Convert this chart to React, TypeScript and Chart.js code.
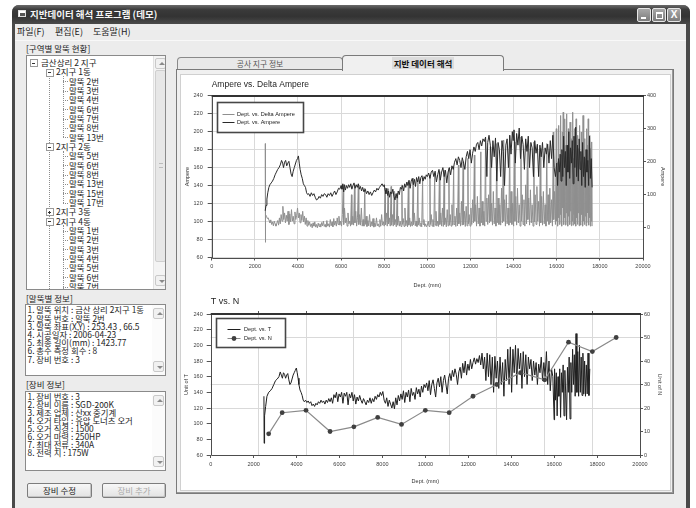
import React, { useEffect, useRef } from "react";
import { Chart, registerables } from "chart.js";

Chart.register(...registerables);

const FONT = '"Liberation Sans", Arial, sans-serif';
const KFONT = '"Noto Sans CJK KR", "Noto Sans", sans-serif';

// ---------- tick labels ----------
const depthTicks = [0, 2000, 4000, 6000, 8000, 10000, 12000, 14000, 16000, 18000, 20000];
const ampereAxisTicks = [60, 80, 100, 120, 140, 160, 180, 200, 220, 240];
const deltaAxisTicks = [0, 100, 200, 300, 400];
const tAxisTicks = [60, 80, 100, 120, 140, 160, 180, 200, 220, 240];
const nAxisTicks = [0, 10, 20, 30, 40, 50, 60];
const nGridDepths = [2222, 4444, 6667, 8889, 11111, 13333, 15556, 17778];
const nGridLevels = [20, 30, 50];

// ---------- series: [depth (mm), value] ----------
const ampere: [number, number][] = [
  [2480, 112], [2520, 118], [2560, 125], [2600, 132], [2650, 138], [2700, 141], [2760, 143], [2820, 145], [2880, 148],
  [2940, 152], [3000, 155], [3060, 158], [3120, 160], [3180, 163], [3240, 168], [3290, 165], [3330, 160], [3380, 166],
  [3430, 168], [3480, 162], [3530, 165], [3580, 167], [3630, 160], [3680, 153], [3730, 150], [3780, 156], [3830, 160],
  [3880, 164], [3930, 168], [3980, 170], [4020, 173], [4060, 165], [4100, 158], [4150, 152], [4200, 148], [4250, 142],
  [4300, 140], [4350, 138], [4400, 132], [4450, 130], [4500, 131], [4560, 128], [4620, 132], [4680, 129], [4740, 131],
  [4800, 127], [4860, 124], [4920, 125], [4980, 128], [5040, 126], [5100, 130], [5160, 128], [5220, 131], [5280, 130],
  [5340, 127], [5400, 131], [5460, 129], [5520, 132], [5580, 128], [5640, 131], [5700, 134], [5760, 130], [5820, 133],
  [5880, 137], [5940, 136], [6000, 140], [6040, 136], [6080, 142], [6120, 133], [6160, 141], [6200, 135], [6250, 140],
  [6300, 137], [6350, 141], [6400, 138], [6450, 142], [6500, 136], [6550, 140], [6600, 143], [6650, 137], [6700, 141],
  [6750, 138], [6800, 142], [6850, 136], [6900, 139], [6950, 134], [7000, 138], [7060, 133], [7120, 136], [7180, 131],
  [7240, 134], [7300, 130], [7360, 133], [7420, 129], [7480, 132], [7540, 135], [7600, 133], [7660, 137], [7720, 135],
  [7780, 138], [7840, 140], [7900, 142], [7960, 139], [8000, 141], [8040, 135], [8080, 131], [8120, 137], [8160, 129],
  [8200, 134], [8250, 127], [8300, 133], [8350, 131], [8400, 136], [8450, 128], [8500, 124], [8550, 131], [8600, 126],
  [8650, 134], [8700, 130], [8750, 138], [8800, 136], [8850, 140], [8900, 134], [8950, 142], [9000, 138], [9050, 144],
  [9100, 140], [9150, 146], [9200, 137], [9250, 145], [9300, 148], [9350, 141], [9400, 147], [9450, 139], [9500, 149],
  [9550, 144], [9600, 150], [9650, 142], [9700, 149], [9750, 151], [9800, 145], [9850, 150], [9900, 147], [9950, 152],
  [10000, 150], [10060, 154], [10120, 148], [10180, 155], [10240, 157], [10300, 150], [10360, 156], [10420, 144],
  [10480, 152], [10540, 158], [10600, 146], [10660, 155], [10720, 160], [10780, 150], [10840, 157], [10900, 143],
  [10960, 155], [11020, 160], [11080, 152], [11140, 162], [11200, 158], [11260, 166], [11320, 170], [11380, 163],
  [11440, 172], [11500, 168], [11560, 160], [11620, 171], [11680, 165], [11740, 158], [11800, 172], [11860, 178],
  [11920, 170], [11980, 180], [12040, 165], [12100, 176], [12160, 183], [12220, 178], [12280, 186], [12340, 188],
  [12400, 180], [12460, 190], [12520, 184], [12580, 192], [12640, 189], [12700, 194], [12760, 150], [12800, 188],
  [12860, 196], [12920, 185], [12980, 160], [13040, 190], [13100, 172], [13160, 193], [13220, 145], [13280, 188],
  [13340, 180], [13400, 150], [13460, 190], [13520, 178], [13580, 140], [13640, 185], [13700, 192], [13760, 160],
  [13820, 196], [13880, 175], [13940, 200], [13980, 190], [14020, 202], [14080, 165], [14140, 198], [14200, 185],
  [14260, 204], [14320, 170], [14380, 195], [14440, 186], [14500, 158], [14560, 192], [14620, 178], [14680, 195],
  [14740, 160], [14800, 188], [14860, 182], [14920, 150], [14980, 190], [15040, 176], [15100, 186], [15160, 150],
  [15220, 185], [15280, 172], [15340, 188], [15400, 160], [15460, 182], [15520, 175], [15580, 186], [15640, 165],
  [15700, 190], [15760, 170], [15820, 196], [15880, 160], [15940, 150], [16000, 165], [16040, 140], [16080, 170],
  [16120, 155], [16160, 175], [16200, 145], [16240, 180], [16280, 150], [16320, 195], [16360, 160], [16400, 178],
  [16440, 140], [16480, 185], [16520, 155], [16560, 200], [16600, 148], [16640, 182], [16680, 165], [16720, 190],
  [16760, 142], [16800, 195], [16840, 160], [16880, 205], [16920, 150], [16960, 185], [17000, 145], [17040, 192],
  [17080, 158], [17120, 178], [17160, 140], [17200, 188], [17240, 150], [17280, 172], [17320, 138], [17360, 180],
  [17400, 155], [17440, 168], [17480, 140], [17520, 195], [17560, 148], [17600, 170], [17640, 138],
];

const deltaAmpere: [number, number][] = [
  [2480, 255], [2490, -44], [2500, 40], [2540, 35], [2580, 28], [2620, 30], [2660, 22], [2700, 15], [2740, 24],
  [2780, 10], [2820, 18], [2860, 6], [2900, 20], [2940, 12], [2980, 5], [3020, 14], [3060, 22], [3100, 8], [3140, 30],
  [3180, 12], [3220, 40], [3260, 20], [3300, 65], [3340, 25], [3380, 45], [3420, 15], [3460, 38], [3500, 20],
  [3540, 50], [3580, 10], [3620, 42], [3660, 18], [3700, 55], [3740, 20], [3780, 35], [3820, 12], [3860, 48],
  [3900, 25], [3940, 38], [3980, 60], [4020, 30], [4060, 45], [4100, 15], [4140, 40], [4180, 22], [4220, 50],
  [4260, 18], [4300, 35], [4340, 10], [4380, 30], [4420, 5], [4460, 22], [4500, 8], [4540, 18], [4580, 4], [4620, 12],
  [4660, 0], [4700, 15], [4740, 5], [4780, 18], [4820, 2], [4860, 10], [4900, 0], [4940, 14], [4980, 4], [5020, 12],
  [5060, 2], [5100, 16], [5140, 6], [5180, 20], [5220, 4], [5260, 10], [5300, 2], [5340, 22], [5380, 5], [5420, 12],
  [5460, 2], [5500, 25], [5540, 6], [5580, 18], [5620, 3], [5660, 28], [5700, 8], [5740, 20], [5780, 5], [5820, 30],
  [5860, 10], [5900, 35], [5940, 8], [5980, 20], [6020, 5], [6060, 40], [6100, 130], [6120, 10], [6160, 60],
  [6200, 15], [6240, 30], [6280, 5], [6320, 45], [6360, 12], [6400, 20], [6440, 5], [6480, 100], [6500, 10],
  [6540, 35], [6580, 8], [6620, 125], [6640, 15], [6680, 50], [6720, 5], [6760, 30], [6800, 130], [6820, 10],
  [6860, 40], [6900, 8], [6940, 60], [6980, 5], [7020, 25], [7060, 5], [7100, 120], [7120, 10], [7160, 35], [7200, 4],
  [7240, 22], [7280, 6], [7320, 40], [7360, 3], [7400, 18], [7440, 5], [7480, 28], [7520, 2], [7560, 15], [7600, 4],
  [7640, 30], [7680, 6], [7720, 12], [7760, 3], [7800, 25], [7840, 5], [7880, 40], [7920, 8], [7960, 18], [8000, 5],
  [8040, 120], [8060, 10], [8100, 45], [8140, 5], [8180, 118], [8200, 12], [8240, 30], [8280, 5], [8320, 125],
  [8340, 8], [8380, 40], [8420, 5], [8460, 110], [8480, 10], [8520, 25], [8560, 3], [8600, 105], [8620, 8], [8660, 35],
  [8700, 5], [8740, 20], [8780, 4], [8820, 130], [8840, 10], [8880, 28], [8920, 4], [8960, 60], [9000, 6], [9040, 22],
  [9080, 3], [9120, 140], [9140, 8], [9180, 30], [9220, 4], [9260, 18], [9300, 5], [9340, 150], [9360, 10], [9400, 45],
  [9440, 6], [9480, 20], [9520, 4], [9560, 145], [9580, 8], [9620, 30], [9660, 5], [9700, 15], [9740, 3], [9780, 150],
  [9800, 10], [9840, 25], [9880, 4], [9920, 12], [9960, 3], [10000, 8], [10040, 20], [10080, 4], [10120, 160],
  [10140, 10], [10180, 40], [10220, 5], [10260, 25], [10300, 3], [10340, 165], [10360, 8], [10400, 50], [10440, 5],
  [10480, 20], [10520, 4], [10560, 170], [10580, 10], [10620, 45], [10660, 5], [10700, 60], [10740, 4], [10780, 175],
  [10800, 10], [10840, 30], [10880, 3], [10920, 55], [10960, 6], [11000, 180], [11020, 8], [11060, 40], [11100, 5],
  [11140, 70], [11180, 8], [11220, 185], [11240, 10], [11280, 35], [11320, 4], [11360, 60], [11400, 6], [11440, 190],
  [11460, 12], [11500, 45], [11540, 5], [11580, 80], [11620, 8], [11660, 200], [11680, 10], [11720, 50], [11760, 4],
  [11800, 65], [11840, 6], [11880, 210], [11900, 12], [11940, 40], [11980, 5], [12020, 60], [12060, 10], [12100, 85],
  [12140, 15], [12180, 220], [12200, 20], [12240, 70], [12280, 5], [12320, 95], [12360, 12], [12400, 60], [12440, 5],
  [12480, 230], [12500, 15], [12540, 80], [12580, 8], [12620, 50], [12660, 5], [12700, 270], [12720, 20], [12760, 90],
  [12800, 10], [12840, 100], [12880, 15], [12920, 245], [12940, 20], [12980, 75], [13020, 8], [13060, 110], [13100, 12],
  [13140, 60], [13180, 5], [13220, 255], [13240, 15], [13280, 90], [13320, 10], [13360, 70], [13400, 8], [13440, 120],
  [13480, 15], [13520, 265], [13540, 20], [13580, 85], [13620, 5], [13660, 100], [13700, 12], [13740, 60], [13780, 8],
  [13820, 280], [13840, 15], [13880, 110], [13920, 10], [13960, 75], [14000, 5], [14040, 260], [14060, 20], [14100, 95],
  [14140, 8], [14180, 120], [14220, 15], [14260, 70], [14300, 5], [14340, 275], [14360, 20], [14400, 100], [14440, 10],
  [14480, 85], [14520, 5], [14560, 130], [14600, 12], [14640, 250], [14660, 25], [14700, 90], [14740, 8], [14780, 115],
  [14820, 15], [14860, 70], [14900, 5], [14940, 260], [14960, 18], [15000, 100], [15040, 10], [15080, 125], [15120, 20],
  [15160, 80], [15200, 5], [15240, 240], [15260, 15], [15300, 95], [15340, 8], [15380, 110], [15420, 12], [15460, 70],
  [15500, 5], [15540, 255], [15560, 20], [15600, 100], [15640, 10], [15680, 120], [15720, 15], [15760, 85], [15800, 5],
  [15840, 290], [15860, 25], [15900, 110], [15940, 10], [15980, 300], [16000, 20], [16020, 150], [16040, 5],
  [16060, 200], [16080, 30], [16100, 310], [16120, 10], [16140, 180], [16160, 40], [16180, 340], [16200, 15],
  [16220, 220], [16240, 5], [16260, 290], [16280, 60], [16300, 350], [16320, 10], [16340, 200], [16360, 30],
  [16380, 330], [16400, 8], [16420, 250], [16440, 45], [16460, 345], [16480, 12], [16500, 190], [16520, 5],
  [16540, 300], [16560, 35], [16580, 240], [16600, 10], [16620, 320], [16640, 50], [16660, 180], [16680, 6],
  [16700, 270], [16720, 20], [16740, 350], [16760, 8], [16780, 210], [16800, 40], [16820, 300], [16840, 12],
  [16860, 260], [16880, 5], [16900, 330], [16920, 30], [16940, 190], [16960, 10], [16980, 280], [17000, 45],
  [17020, 240], [17040, 6], [17060, 310], [17080, 25], [17100, 200], [17120, 8], [17140, 290], [17160, 40],
  [17180, 230], [17200, 5], [17220, 340], [17240, 20], [17260, 180], [17280, 10], [17300, 270], [17320, 35],
  [17340, 210], [17360, 6], [17380, 300], [17400, 15], [17420, 250], [17440, 45], [17460, 330], [17480, 8],
  [17500, 200], [17520, 30], [17540, 280], [17560, 5], [17580, 240], [17600, 20], [17620, 260], [17640, 5],
];

const tValues: [number, number][] = [
  [2480, 135], [2490, 75], [2510, 110], [2560, 122], [2620, 135], [2700, 140], [2780, 142], [2860, 145], [2940, 150],
  [3020, 155], [3100, 157], [3180, 160], [3240, 166], [3290, 162], [3340, 158], [3390, 165], [3440, 163], [3490, 158],
  [3540, 162], [3590, 164], [3640, 156], [3690, 150], [3740, 152], [3790, 157], [3840, 162], [3890, 165], [3940, 168],
  [3990, 171], [4030, 165], [4070, 158], [4110, 150], [4160, 143], [4210, 140], [4260, 136], [4310, 130], [4360, 128],
  [4420, 130], [4480, 127], [4540, 129], [4600, 126], [4660, 128], [4720, 123], [4780, 125], [4840, 122], [4900, 126],
  [4960, 124], [5020, 128], [5080, 126], [5140, 130], [5200, 127], [5260, 129], [5320, 125], [5380, 130], [5440, 127],
  [5500, 132], [5560, 128], [5620, 133], [5680, 126], [5740, 137], [5800, 133], [5860, 140], [5920, 128], [5980, 138],
  [6040, 134], [6100, 140], [6160, 126], [6220, 139], [6280, 135], [6340, 140], [6400, 124], [6460, 138], [6520, 133],
  [6580, 140], [6640, 129], [6700, 137], [6760, 125], [6820, 134], [6880, 129], [6940, 136], [7000, 130], [7060, 126],
  [7120, 132], [7180, 128], [7240, 124], [7300, 130], [7360, 127], [7420, 133], [7480, 126], [7540, 132], [7600, 128],
  [7660, 135], [7720, 131], [7780, 137], [7840, 134], [7900, 140], [7960, 136], [8020, 141], [8080, 130], [8140, 126],
  [8200, 133], [8260, 122], [8320, 130], [8380, 125], [8440, 120], [8500, 128], [8560, 119], [8620, 133], [8680, 124],
  [8740, 136], [8800, 129], [8860, 138], [8920, 131], [8980, 142], [9040, 127], [9100, 140], [9160, 134], [9220, 143],
  [9280, 128], [9340, 145], [9400, 136], [9460, 140], [9520, 131], [9580, 146], [9640, 138], [9700, 144], [9760, 134],
  [9820, 148], [9880, 140], [9940, 150], [10000, 146], [10060, 152], [10120, 142], [10180, 155], [10240, 137],
  [10300, 150], [10360, 156], [10420, 145], [10480, 134], [10540, 152], [10600, 158], [10660, 147], [10720, 160],
  [10780, 140], [10840, 155], [10900, 162], [10960, 150], [11020, 138], [11080, 158], [11140, 164], [11200, 155],
  [11260, 168], [11320, 160], [11380, 170], [11440, 163], [11500, 150], [11560, 166], [11620, 172], [11680, 158],
  [11740, 177], [11800, 165], [11860, 180], [11920, 162], [11980, 176], [12040, 168], [12100, 182], [12160, 170],
  [12220, 178], [12280, 184], [12340, 176], [12400, 183], [12460, 178], [12520, 187], [12580, 175], [12640, 190],
  [12700, 170], [12760, 185], [12820, 155], [12880, 190], [12940, 160], [13000, 188], [13060, 150], [13120, 185],
  [13180, 140], [13240, 186], [13300, 158], [13360, 180], [13420, 145], [13480, 185], [13540, 150], [13600, 178],
  [13660, 135], [13720, 182], [13780, 155], [13840, 195], [13900, 150], [13960, 198], [14020, 140], [14080, 195],
  [14140, 165], [14200, 200], [14260, 150], [14320, 196], [14380, 170], [14440, 190], [14500, 145], [14560, 192],
  [14620, 160], [14680, 188], [14740, 150], [14800, 185], [14860, 170], [14920, 182], [14980, 155], [15040, 180],
  [15100, 162], [15160, 178], [15220, 150], [15280, 176], [15340, 165], [15400, 185], [15460, 155], [15520, 178],
  [15580, 160], [15640, 192], [15700, 150], [15760, 180], [15820, 142], [15880, 170], [15940, 160], [16000, 105],
  [16020, 170], [16060, 130], [16100, 165], [16140, 110], [16180, 160], [16220, 135], [16260, 170], [16300, 108],
  [16340, 165], [16380, 140], [16420, 175], [16460, 110], [16500, 168], [16540, 138], [16580, 105], [16620, 172],
  [16660, 140], [16700, 185], [16740, 106], [16780, 178], [16820, 140], [16860, 195], [16900, 150], [16940, 188],
  [16980, 135], [17020, 215], [17060, 140], [17100, 192], [17140, 135], [17180, 200], [17220, 140], [17260, 185],
  [17300, 136], [17340, 190], [17380, 138], [17420, 180], [17460, 135], [17500, 175], [17540, 138], [17580, 190],
  [17620, 136], [17660, 170],
];

const nValues: [number, number][] = [
  [2700, 9], [3330, 18], [4440, 19], [5560, 10], [6670, 12], [7780, 16], [8890, 13], [10000, 19],
  [11110, 18], [12220, 25], [13330, 30], [14440, 35], [15560, 32], [16670, 48], [17780, 44], [18890, 50],
];

// ---------- helpers ----------
const toXY = (arr: [number, number][]) => arr.map(([x, y]) => ({ x, y }));
const setTicks = (values: number[]) => (s: any) => {
  s.ticks = values.map((v) => ({ value: v }));
};
const tickFont = { family: FONT, size: 5.5 };
const axisTitleFont = { family: FONT, size: 5.5 };
const GRID = "#d9d9d9";
const TICK = "#555";

const framePlugin = {
  id: "frame",
  afterDraw(chart: any) {
    const { ctx, chartArea: a } = chart;
    ctx.save();
    ctx.strokeStyle = "#4d4d4d";
    ctx.lineWidth = 1;
    ctx.beginPath();
    ctx.moveTo(Math.round(a.left) + 0.5, a.top);
    ctx.lineTo(Math.round(a.left) + 0.5, Math.round(a.bottom) + 0.5);
    ctx.lineTo(Math.round(a.right) + 0.5, Math.round(a.bottom) + 0.5);
    ctx.lineTo(Math.round(a.right) + 0.5, a.top);
    ctx.stroke();
    ctx.strokeStyle = "#333";
    ctx.lineWidth = 2;
    ctx.beginPath();
    ctx.moveTo(a.left, Math.round(a.top));
    ctx.lineTo(a.right + 1, Math.round(a.top));
    ctx.stroke();
    ctx.restore();
  },
};

const boxLegendPlugin = {
  id: "boxLegend",
  afterDraw(chart: any, _args: any, o: any) {
    const { ctx, chartArea: a } = chart;
    const x = Math.round(a.left + o.dx) + 0.5;
    const y = Math.round(a.top + o.dy) + 0.5;
    ctx.save();
    ctx.fillStyle = "#fff";
    ctx.fillRect(x, y, o.w, o.h);
    ctx.strokeStyle = "#474747";
    ctx.lineWidth = 1.6;
    ctx.strokeRect(x, y, o.w, o.h);
    chart.data.datasets.forEach((ds: any, i: number) => {
      const ry = Math.round(y + o.rows[i]) + 0.5;
      ctx.strokeStyle = ds.borderColor;
      ctx.lineWidth = 1;
      ctx.beginPath();
      ctx.moveTo(x + o.l0, ry);
      ctx.lineTo(x + o.l1, ry);
      ctx.stroke();
      if (ds.pointRadius > 0) {
        ctx.fillStyle = ds.pointBackgroundColor;
        ctx.beginPath();
        ctx.arc(x + (o.l0 + o.l1) / 2, ry, ds.pointRadius, 0, Math.PI * 2);
        ctx.fill();
      }
      ctx.fillStyle = "#222";
      ctx.font = `5.6px ${FONT}`;
      ctx.textBaseline = "middle";
      ctx.fillText(ds.label, x + o.tx, ry);
    });
    ctx.restore();
  },
};

function topConfig(): any {
  return {
    type: "line",
    data: {
      datasets: [
        {
          label: "Dept. vs. Delta Ampere",
          data: toXY(deltaAmpere),
          yAxisID: "y1",
          borderColor: "#8f8f8f",
          borderWidth: 1,
          pointRadius: 0,
          order: 1,
        },
        {
          label: "Dept. vs. Ampere",
          data: toXY(ampere),
          yAxisID: "y",
          borderColor: "#2a2a2a",
          borderWidth: 1,
          pointRadius: 0,
          order: 0,
        },
      ],
    },
    options: {
      animation: false,
      responsive: false,
      maintainAspectRatio: false,
      devicePixelRatio: 1,
      layout: { padding: 0 },
      elements: { line: { tension: 0 } },
      plugins: {
        legend: { display: false },
        tooltip: { enabled: false },
        title: {
          display: true,
          text: "Ampere vs. Delta Ampere",
          align: "start",
          fullSize: false,
          color: "#1e1e1e",
          font: { family: FONT, size: 8.5, weight: "normal" },
          padding: { top: 5.1, bottom: 6.4 },
        },
        boxLegend: { dx: 5, dy: 6.6, w: 86, h: 30, rows: [11, 19.7], l0: 5, l1: 17, tx: 19.5 },
      },
      scales: {
        x: {
          type: "linear",
          position: "bottom",
          min: 0,
          max: 20000,
          afterBuildTicks: setTicks(depthTicks),
          afterFit: (s: any) => {
            s.height = 33.5;
          },
          grid: { color: GRID, tickColor: TICK, tickLength: 3, drawOnChartArea: true },
          border: { display: false },
          ticks: { font: tickFont, color: "#3c3c3c", padding: 3, maxRotation: 0, autoSkip: false, callback: (v: any) => String(v) },
          title: { display: true, text: "Dept. (mm)", font: axisTitleFont, color: "#333", padding: { top: 0, bottom: 2.7 } },
        },
        y: {
          type: "linear",
          position: "left",
          min: 60,
          max: 240,
          afterBuildTicks: setTicks(ampereAxisTicks),
          afterFit: (s: any) => {
            s.width = 31.7;
          },
          grid: { color: GRID, tickColor: TICK, tickLength: 4, drawOnChartArea: true },
          border: { display: false },
          ticks: { font: tickFont, color: "#3c3c3c", padding: 5, callback: (v: any) => String(v) },
          title: { display: true, text: "Ampere", font: axisTitleFont, color: "#333", padding: { top: 4, bottom: 0 } },
        },
        y1: {
          type: "linear",
          position: "right",
          min: -90,
          max: 400,
          afterBuildTicks: setTicks(deltaAxisTicks),
          afterFit: (s: any) => {
            s.width = 28;
          },
          grid: { color: GRID, tickColor: TICK, tickLength: 3, drawOnChartArea: false },
          border: { display: false },
          ticks: { font: tickFont, color: "#3c3c3c", padding: 1, callback: (v: any) => String(v) },
          title: { display: true, text: "Ampere", font: axisTitleFont, color: "#333", padding: { top: 5, bottom: 0 } },
        },
      },
    },
    plugins: [framePlugin, boxLegendPlugin],
  };
}

function bottomConfig(): any {
  return {
    type: "line",
    data: {
      datasets: [
        {
          label: "Dept. vs. T",
          data: toXY(tValues),
          yAxisID: "y",
          xAxisID: "x",
          borderColor: "#1f1f1f",
          borderWidth: 1,
          pointRadius: 0,
          order: 1,
        },
        {
          label: "Dept. vs. N",
          data: toXY(nValues),
          yAxisID: "y1",
          xAxisID: "x",
          borderColor: "#8a8a8a",
          borderWidth: 1.2,
          pointRadius: 2.4,
          pointBackgroundColor: "#404040",
          pointBorderColor: "#404040",
          pointBorderWidth: 0,
          order: 0,
        },
      ],
    },
    options: {
      animation: false,
      responsive: false,
      maintainAspectRatio: false,
      devicePixelRatio: 1,
      layout: { padding: 0 },
      elements: { line: { tension: 0 } },
      plugins: {
        legend: { display: false },
        tooltip: { enabled: false },
        title: {
          display: true,
          text: "T vs. N",
          align: "start",
          fullSize: false,
          color: "#1e1e1e",
          font: { family: FONT, size: 9, weight: "normal" },
          padding: { top: 5.3, bottom: 6.9 },
        },
        boxLegend: { dx: 5, dy: 3.7, w: 69, h: 29, rows: [10, 19.6], l0: 11, l1: 24, tx: 27.5 },
      },
      scales: {
        x: {
          type: "linear",
          position: "bottom",
          min: 0,
          max: 20000,
          afterBuildTicks: setTicks(depthTicks),
          afterFit: (s: any) => {
            s.height = 36;
          },
          grid: { color: GRID, tickColor: TICK, tickLength: 3, drawOnChartArea: false },
          border: { display: false },
          ticks: { font: tickFont, color: "#3c3c3c", padding: 3, maxRotation: 0, autoSkip: false, callback: (v: any) => String(v) },
          title: { display: true, text: "Dept. (mm)", font: axisTitleFont, color: "#333", padding: { top: 0, bottom: 6 } },
        },
        x2: {
          type: "linear",
          position: "top",
          min: 0,
          max: 20000,
          afterBuildTicks: setTicks(nGridDepths),
          afterFit: (s: any) => {
            s.height = 0;
          },
          grid: { color: GRID, tickColor: TICK, tickLength: 3, drawOnChartArea: true },
          border: { display: false },
          ticks: { display: false },
        },
        y: {
          type: "linear",
          position: "left",
          min: 60,
          max: 240,
          afterBuildTicks: setTicks(tAxisTicks),
          afterFit: (s: any) => {
            s.width = 30.7;
          },
          grid: { color: GRID, tickColor: TICK, tickLength: 4, drawOnChartArea: false },
          border: { display: false },
          ticks: { font: tickFont, color: "#3c3c3c", padding: 4, callback: (v: any) => String(v) },
          title: { display: true, text: "Unit of T", font: axisTitleFont, color: "#333", padding: { top: 3.4, bottom: 0 } },
        },
        y1: {
          type: "linear",
          position: "right",
          min: 0,
          max: 60,
          afterBuildTicks: setTicks(nAxisTicks),
          afterFit: (s: any) => {
            s.width = 31;
          },
          grid: {
            color: (c: any) => (c.tick && nGridLevels.includes(c.tick.value) ? GRID : "rgba(0,0,0,0)"),
            tickColor: TICK,
            tickLength: 3,
            drawOnChartArea: true,
          },
          border: { display: false },
          ticks: { font: tickFont, color: "#3c3c3c", padding: 1, callback: (v: any) => String(v) },
          title: { display: true, text: "Unit of N", font: axisTitleFont, color: "#333", padding: { top: 7.7, bottom: 0 } },
        },
      },
    },
    plugins: [framePlugin, boxLegendPlugin],
  };
}

function ChartCanvas({ make, left, top, width, height }: any) {
  const ref = useRef<HTMLCanvasElement | null>(null);
  useEffect(() => {
    const chart = new Chart(ref.current as HTMLCanvasElement, make());
    return () => chart.destroy();
  }, []);
  return (
    <canvas
      ref={ref}
      width={width}
      height={height}
      style={{ position: "absolute", left, top, width, height, display: "block" }}
    />
  );
}

// ---------- UI text ----------
const menuItems = ["파일(F)", "편집(E)", "도움말(H)"];
const menuX = [17, 55, 93];
const treeRows: [number, string, string][] = [
  [0, "금산상리 2 지구", "-"],
  [1, "2지구 1동", "-"],
  [2, "말뚝 2번", ""], [2, "말뚝 3번", ""], [2, "말뚝 4번", ""], [2, "말뚝 6번", ""], [2, "말뚝 7번", ""], [2, "말뚝 8번", ""], [2, "말뚝 13번", ""],
  [1, "2지구 2동", "-"],
  [2, "말뚝 5번", ""], [2, "말뚝 6번", ""], [2, "말뚝 8번", ""], [2, "말뚝 13번", ""], [2, "말뚝 15번", ""], [2, "말뚝 17번", ""],
  [1, "2지구 3동", "+"],
  [1, "2지구 4동", "-"],
  [2, "말뚝 1번", ""], [2, "말뚝 2번", ""], [2, "말뚝 3번", ""], [2, "말뚝 4번", ""], [2, "말뚝 5번", ""], [2, "말뚝 6번", ""], [2, "말뚝 7번", ""],
];
const pileInfo = [
  "1. 말뚝 위치 : 금산 상리 2지구 1동",
  "2. 말뚝 번호 : 말뚝 2번",
  "3. 말뚝 좌표(X,Y) : 253.43 , 66.5",
  "4. 시공일자 : 2006-04-23",
  "5. 최종 길이(mm) : 1423.77",
  "6. 총수 측정 회수 : 8",
  "7. 장비 번호 : 3",
];
const equipInfo = [
  "1. 장비 번호 : 3",
  "2. 장비 이름 : SGD-200K",
  "3. 제조 업체 : 산xx 중기계",
  "4. 오거 타입 : 유압 도너츠 오거",
  "5. 오거 직경 : 1500",
  "6. 오거 마력 : 250HP",
  "7. 최대 전류 : 340A",
  "8. 전력 치 : 175W",
];

const abs = (l: number, t: number, w?: number, h?: number, extra: any = {}): any => ({
  position: "absolute",
  left: l,
  top: t,
  width: w,
  height: h,
  boxSizing: "border-box",
  ...extra,
});

function ScrollArrow({ l, t, up }: any) {
  return (
    <div style={abs(l, t, 11, 11, { background: "#f1f1f1", border: "1px solid #c9c9c9", borderRadius: 2 })}>
      <div
        style={abs(2.5, up ? 3 : 3.5, 0, 0, {
          borderLeft: "3px solid transparent",
          borderRight: "3px solid transparent",
          [up ? "borderBottom" : "borderTop"]: "3px solid #8a8a8a",
        })}
      />
    </div>
  );
}

function Tree() {
  const rowH = 9.33;
  const y0 = 61.7;
  const rowsEls = treeRows.map(([lvl, text, box], i) => {
    const cy = y0 + rowH * i;
    const tx = lvl === 0 ? 40 : lvl === 1 ? 55 : 68;
    const els: any[] = [];
    els.push(
      <div key={"t" + i} style={abs(tx - 26, cy - 55 - rowH / 2, 90, rowH, { fontSize: 8.5, lineHeight: rowH + "px", color: "#222", whiteSpace: "nowrap" })}>
        {text}
      </div>
    );
    if (lvl === 2) {
      els.push(<div key={"s" + i} style={abs(62 - 26, cy - 55, 5, 1, { borderTop: "1px dotted #8c8c8c" })} />);
    }
    if (box) {
      const bx = (lvl === 0 ? 32 : 48) - 26;
      els.push(
        <div key={"b" + i} style={abs(bx - 3.5, cy - 55 - 3.5, 8, 8, { border: "1px solid #999", background: "#fff" })}>
          <div style={abs(1.5, 2.5, 3, 1, { background: "#333" })} />
          {box === "+" ? <div style={abs(2.5, 1.5, 1, 3, { background: "#333" })} /> : null}
        </div>
      );
    }
    return els;
  });
  const vline = (x: number, y1: number, y2: number, k: string) => (
    <div key={k} style={abs(x - 26, y1 - 55, 1, y2 - y1, { borderLeft: "1px dotted #8c8c8c" })} />
  );
  const rowY = (i: number) => y0 + rowH * i;
  return (
    <div style={abs(26, 55, 140, 235, { background: "#fff", border: "1px solid #8a8a8a", overflow: "hidden", fontFamily: KFONT })}>
      {vline(48, rowY(1), 290, "v1")}
      {vline(62, rowY(1) + 4, rowY(8), "v2a")}
      {vline(62, rowY(9) + 4, rowY(15), "v2b")}
      {vline(62, rowY(17) + 4, 290, "v2c")}
      {rowsEls}
      <div style={abs(126, 0, 13, 233, { background: "#f4f4f4", borderLeft: "1px solid #e2e2e2" })}>
        <ScrollArrow l={1} t={2} up />
        <div style={abs(1, 14, 11, 192, { background: "#e7e7e7", border: "1px solid #cfcfcf", borderRadius: 2 })}>
          <div style={abs(3, 92, 4, 5, { borderTop: "1px solid #bbb", borderBottom: "1px solid #bbb" })} />
        </div>
        <ScrollArrow l={1} t={219} up={false} />
      </div>
    </div>
  );
}

function InfoBox({ top, height, lines, lineH, first }: any) {
  return (
    <div style={abs(25, top, 141, height, { background: "#fff", border: "1px solid #8a8a8a", overflow: "hidden", fontFamily: KFONT })}>
      <div style={abs(1.5, first - top - lineH / 2 - 1, 125, lines.length * lineH, { fontSize: 8.4, lineHeight: lineH + "px", color: "#222", whiteSpace: "nowrap" })}>
        {lines.map((l: string, i: number) => (
          <div key={i}>{l}</div>
        ))}
      </div>
      <div style={abs(126, 0, 13, height - 2, { background: "#fbfbfb" })}>
        <ScrollArrow l={1} t={3} up />
        <ScrollArrow l={1} t={height - 16} up={false} />
      </div>
    </div>
  );
}

function Button({ l, w, text, disabled }: any) {
  return (
    <div
      style={abs(l, 483, w, 15, {
        background: "linear-gradient(#f7f7f7, #e3e3e3)",
        border: "1px solid #7d7d7d",
        borderRadius: 2,
        boxShadow: "inset -1px -1px 0 #c4c4c4",
        fontFamily: KFONT,
        fontSize: 8.5,
        lineHeight: "13px",
        textAlign: "center",
        color: disabled ? "#ababab" : "#222",
      })}
    >
      {text}
    </div>
  );
}

export default function App() {
  return (
    <div style={{ position: "fixed", left: 0, top: 0, width: 696, height: 508, overflow: "hidden", background: "#fff", fontFamily: KFONT }}>
      {/* window frame */}
      <div style={abs(12, 5, 678, 520, { background: "#4a4a4a", borderRadius: "7px 7px 0 0" })} />
      <div
        style={abs(12, 5, 678, 19, {
          background: "linear-gradient(#6a6a6a, #3a3a3a 25%, #333 60%, #4a4a4a)",
          borderRadius: "7px 7px 0 0",
        })}
      />
      <div style={abs(18, 10, 8, 7, { background: "#fff", border: "1px solid #ddd" })}>
        <div style={abs(1, 2, 5, 3, { background: "#555" })} />
      </div>
      <div style={abs(30, 5, 300, 19, { color: "#f5f5f5", fontWeight: 700, fontSize: 9.5, lineHeight: "19px", whiteSpace: "nowrap" })}>
        지반데이터 해석 프로그램 (데모)
      </div>
      {/* caption buttons */}
      {[637, 652, 667].map((x, i) => (
        <div
          key={x}
          style={abs(x, 8, 14, 14, {
            background: "linear-gradient(#a8a8a8, #7c7c7c)",
            border: "1px solid #e6e6e6",
            borderRadius: 2,
          })}
        >
          {i === 0 ? <div style={abs(3, 8, 5, 2, { background: "#fff" })} /> : null}
          {i === 1 ? <div style={abs(2.5, 2.5, 7, 7, { border: "1px solid #fff", borderTopWidth: 2 })} /> : null}
          {i === 2 ? (
            <div style={abs(0, 0, 12, 12, { color: "#fff", fontFamily: FONT, fontWeight: 700, fontSize: 10, lineHeight: "12px", textAlign: "center" })}>
              X
            </div>
          ) : null}
        </div>
      ))}
      {/* client area */}
      <div style={abs(15, 24, 671, 500, { background: "#ececec" })} />
      {menuItems.map((m, i) => (
        <div key={m} style={abs(menuX[i], 24, 60, 15, { fontSize: 9, lineHeight: "15px", color: "#222", whiteSpace: "nowrap" })}>
          {m}
        </div>
      ))}
      <div style={abs(15, 40, 671, 1, { background: "#f8f8f8" })} />

      {/* left panel */}
      <div style={abs(26, 42, 140, 12, { fontSize: 8.5, lineHeight: "12px", color: "#222" })}>[구역별 말뚝 현황]</div>
      <Tree />
      <div style={abs(26, 292, 140, 12, { fontSize: 8.5, lineHeight: "12px", color: "#222" })}>[말뚝별 정보]</div>
      <InfoBox top={304} height={72} lines={pileInfo} lineH={8.2} first={309.5} />
      <div style={abs(26, 378, 140, 12, { fontSize: 8.5, lineHeight: "12px", color: "#222" })}>[장비 정보]</div>
      <InfoBox top={391} height={80} lines={equipInfo} lineH={8} first={396} />
      <Button l={27} w={65} text="장비 수정" />
      <Button l={102} w={64} text="장비 추가" disabled />

      {/* tabs */}
      <div
        style={abs(177, 57, 166, 13, {
          background: "#e9e9e9",
          border: "1px solid #8a8a8a",
          borderBottom: "none",
          borderRadius: "4px 4px 0 0",
          fontSize: 7.8,
          lineHeight: "12px",
          textAlign: "center",
          color: "#555",
        })}
      >
        공사 지구 정보
      </div>
      <div style={abs(176, 69, 498, 425, { background: "#f0f0f0", border: "1px solid #7a7a7a", boxShadow: "inset -1px -1px 0 #9a9a9a" })} />
      <div
        style={abs(342, 55, 162, 16, {
          background: "#f0f0f0",
          border: "1px solid #7a7a7a",
          borderBottom: "none",
          borderRadius: "4px 4px 0 0",
          fontSize: 8.5,
          lineHeight: "14px",
          textAlign: "center",
          color: "#111",
          fontWeight: 700,
        })}
      >
        <span style={{ background: "#dcdcdc", padding: "0 2px" }}>지반 데이터 해석</span>
      </div>
      <div style={abs(180, 74, 491, 417, { background: "#fff", border: "1px solid #d0d0d0" })} />

      <ChartCanvas make={topConfig} left={180} top={74} width={491} height={217} />
      <ChartCanvas make={bottomConfig} left={180} top={291} width={491} height={200} />
    </div>
  );
}
